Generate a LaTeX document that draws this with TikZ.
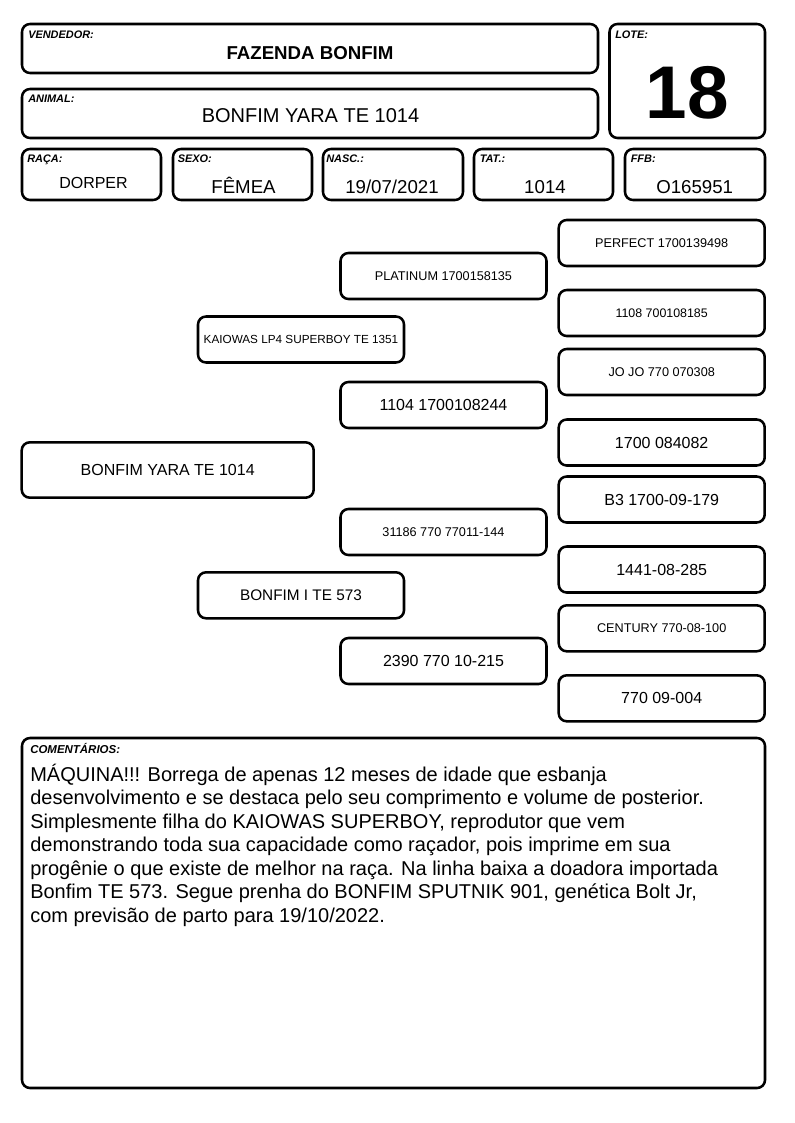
\documentclass[tikz,border=0pt]{standalone}
\usepackage{fontspec}
\setmainfont{Liberation Sans}
\begin{document}
\begin{tikzpicture}[x=0.75pt,y=-0.75pt,
  box/.style={draw, line width=1.9pt, rounded corners=6pt},
  lab/.style={font=\fontsize{8.2}{9}\selectfont\bfseries\itshape, anchor=base west, inner sep=0pt},
  val/.style={anchor=base, inner sep=0pt},
  ped/.style={box, minimum width=154.5pt, minimum height=34.5pt, inner sep=0pt, align=center},
  pbig/.style={ped, font=\fontsize{12}{14}\selectfont},
  psmall/.style={ped, font=\fontsize{9.5}{11}\selectfont}
]
\useasboundingbox[fill=white] (0,0) rectangle (794,1123);

% header boxes
\draw[box] (22,24) rectangle (598,73);
\node[lab] (lvend) at (28,39) {VENDEDOR:};
\node[val, font=\fontsize{14}{16}\selectfont\bfseries] (vend) at (310,60) {FAZENDA BONFIM};

\draw[box] (22,89) rectangle (598,138);
\node[lab] (lanim) at (28,103) {ANIMAL:};
\node[val, font=\fontsize{15}{17}\selectfont] (anim) at (310.5,122.7) {BONFIM YARA TE 1014};

\draw[box] (609.5,24) rectangle (765,138);
\node[lab] (llote) at (615,39) {LOTE:};
\node[val, font=\fontsize{56}{60}\selectfont\bfseries] (lote) at (687.5,119) {18};

% row boxes
\draw[box] (22,149) rectangle (161,200);
\node[lab] (lraca) at (27,162.7) {RAÇA:};
\node[val, font=\fontsize{12}{14}\selectfont] (raca) at (93.5,188.3) {DORPER};

\draw[box] (173,149) rectangle (312,200);
\node[lab] (lsexo) at (177.5,162.7) {SEXO:};
\node[val, font=\fontsize{14}{16}\selectfont] (sexo) at (243.5,193.5) {FÊMEA};

\draw[box] (323,149) rectangle (463,200);
\node[lab] (lnasc) at (326,162.7) {NASC.:};
\node[val, font=\fontsize{14}{16}\selectfont] (nasc) at (392,193.8) {19/07/2021};

\draw[box] (474,149) rectangle (613,200);
\node[lab] (ltat) at (479.5,162.7) {TAT.:};
\node[val, font=\fontsize{14}{16}\selectfont] (tat) at (545,193.8) {1014};

\draw[box] (625,149) rectangle (765,200);
\node[lab] (lffb) at (630.5,162.7) {FFB:};
\node[val, font=\fontsize{14}{16}\selectfont] (ffb) at (694.7,193.8) {O165951};

% pedigree
\node[box, minimum width=219pt, minimum height=41.5pt, inner sep=0pt, font=\fontsize{12}{14}\selectfont] (a) at (167.7,470) {BONFIM YARA TE 1014};

\node[psmall, font=\fontsize{8.8}{10}\selectfont] (s) at (301,339.5) {KAIOWAS LP4 SUPERBOY TE 1351};
\node[pbig, font=\fontsize{11.5}{14}\selectfont] (d) at (301,595.3) {BONFIM I TE 573};

\node[psmall] (ss) at (443.5,276) {PLATINUM 1700158135};
\node[pbig] (sd) at (443.5,405) {1104 1700108244};
\node[psmall] (ds) at (443.5,532) {31186 770 77011-144};
\node[pbig] (dd) at (443.5,661) {2390 770 10-215};

\node[psmall] (sss) at (661.7,243) {PERFECT 1700139498};
\node[psmall, font=\fontsize{9.3}{11}\selectfont] (ssd) at (661.7,313) {1108 700108185};
\node[psmall] (sds) at (661.7,372) {JO JO 770 070308};
\node[pbig] (sdd) at (661.7,442.5) {1700 084082};
\node[pbig] (dss) at (661.7,499.5) {B3 1700-09-179};
\node[pbig] (dsd) at (661.7,569.5) {1441-08-285};
\node[psmall] (dds) at (661.7,628.3) {CENTURY 770-08-100};
\node[pbig] (ddd) at (661.7,698.3) {770 09-004};

% comments
\draw[box] (22,738) rectangle (765,1088);
\node[lab, font=\fontsize{8.6}{9}\selectfont\bfseries\itshape] (lcom) at (30,753) {COMENTÁRIOS:};
\node[anchor=base west, inner sep=0pt, align=left, font=\fontsize{15}{17.6}\selectfont] (com) at (30,922) {MÁQUINA!!! Borrega de apenas 12 meses de idade que esbanja\\
desenvolvimento e se destaca pelo seu comprimento e volume de posterior.\\
Simplesmente filha do KAIOWAS SUPERBOY, reprodutor que vem\\
demonstrando toda sua capacidade como raçador, pois imprime em sua\\
progênie o que existe de melhor na raça. Na linha baixa a doadora importada\\
Bonfim TE 573. Segue prenha do BONFIM SPUTNIK 901, genética Bolt Jr,\\
com previsão de parto para 19/10/2022.};
\end{tikzpicture}
\end{document}
